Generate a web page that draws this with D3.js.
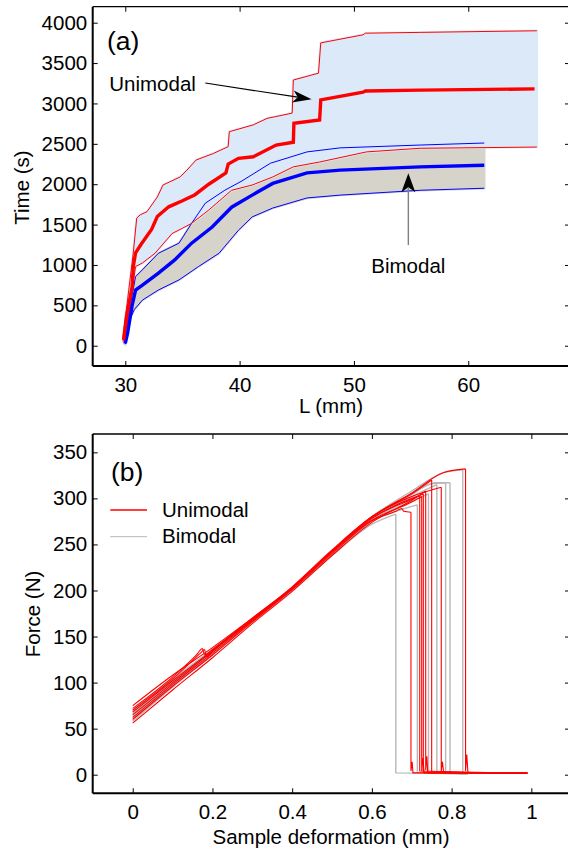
<!DOCTYPE html>
<html><head><meta charset="utf-8">
<script src="https://cdn.jsdelivr.net/npm/d3@7"></script>
<style>
body{margin:0;background:#fff}
svg{display:block}
text{font-family:"Liberation Sans",Arial,Helvetica,sans-serif;fill:#000}
</style>
</head><body>
<svg id="c" width="568" height="853"></svg>
<script>
// ---------- Panel (a) data: [L (mm), Time (s)] ----------
const uniUpper = [[29.8,100],[30.1,450],[30.4,800],[30.7,1150],[31.0,1580],[31.3,1620],[31.9,1660],[32.8,1840],[33.3,1990],[33.9,2030],[34.8,2090],[35.4,2175],[36.2,2300],[37.7,2380],[39.0,2465],[39.1,2650],[41.2,2735],[42.4,2815],[44.6,2880],[44.7,3290],[46.9,3375],[47.1,3750],[50.8,3850],[51.0,3870],[55.8,3880],[66.0,3900]];
const uniMean = [[29.85,70],[30.1,360],[30.6,730],[30.7,980],[30.9,1150],[31.4,1260],[32.3,1440],[32.8,1600],[33.8,1720],[35.0,1795],[36.1,1870],[37.3,2000],[38.8,2140],[39.0,2250],[39.9,2320],[41.2,2340],[43.2,2485],[44.7,2520],[44.75,2755],[47.0,2795],[47.1,3045],[50.8,3140],[51.0,3155],[55.8,3165],[65.8,3180]];
const uniLower = [[29.8,50],[30.2,300],[30.6,700],[30.9,980],[31.5,1025],[32.6,1145],[34.1,1390],[35.0,1455],[35.8,1515],[37.3,1680],[39.3,1925],[41.1,1990],[42.9,2090],[44.7,2215],[47.0,2275],[51.1,2400],[55.8,2445],[66.0,2460]];
const biUpper = [[29.9,30],[30.2,320],[30.9,855],[31.5,940],[32.9,1145],[34.7,1270],[35.8,1515],[37.0,1765],[38.7,1925],[40.2,2040],[42.7,2260],[45.9,2400],[48.8,2450],[55.8,2485],[61.4,2510]];
const biMean = [[30.0,30],[30.2,155],[30.6,500],[30.9,690],[31.5,750],[32.9,900],[34.3,1060],[35.8,1270],[37.6,1470],[39.3,1715],[41.1,1865],[42.9,2010],[45.9,2140],[48.8,2175],[55.8,2215],[61.4,2235]];
const biLower = [[30.0,20],[30.3,300],[30.8,450],[31.5,565],[32.9,690],[34.7,815],[36.4,980],[38.2,1145],[39.9,1430],[41.1,1595],[42.9,1705],[45.9,1830],[48.8,1865],[55.8,1925],[61.4,1950]];
const xTicksA = [30,40,50,60];
const yTicksA = [0,500,1000,1500,2000,2500,3000,3500,4000];

// ---------- Panel (b) data: [deformation (mm), Force (N)] ----------
const uniCurves = [
 [[0,75],[0.1,108],[0.2,138],[0.3,170],[0.4,203],[0.5,242],[0.6,276],[0.66,286],[0.675,289],[0.68,286],[0.698,285],[0.698,4],[0.701,14],[0.703,2],[0.99,2]],
 [[0,60],[0.1,96],[0.2,130],[0.3,166],[0.4,201],[0.5,240],[0.6,276],[0.7,296],[0.725,302],[0.725,4],[0.728,18],[0.731,2],[0.99,1.5]],
 [[0,70],[0.1,104],[0.17,132],[0.18,136],[0.185,128],[0.2,134],[0.3,168],[0.4,202],[0.5,243],[0.6,279],[0.7,299],[0.729,305],[0.729,3],[0.99,1.5]],
 [[0,56],[0.1,92],[0.2,127],[0.3,164],[0.4,199],[0.5,238],[0.6,274],[0.7,298],[0.735,308],[0.735,5],[0.738,20],[0.74,2],[0.99,2]],
 [[0,65],[0.1,100],[0.2,134],[0.3,168],[0.4,203],[0.5,243],[0.6,280],[0.7,305],[0.75,320],[0.75,3],[0.99,1.5]],
 [[0,72],[0.1,106],[0.16,130],[0.175,137],[0.18,130],[0.2,136],[0.3,170],[0.4,204],[0.5,244],[0.6,280],[0.7,302],[0.774,312],[0.774,4],[0.777,14],[0.78,2],[0.99,2]],
 [[0,62],[0.1,98],[0.2,132],[0.3,167],[0.4,202],[0.5,242],[0.6,280],[0.7,306],[0.78,328],[0.835,332],[0.835,4],[0.838,22],[0.841,2],[0.99,1.5]],
 [[0,68],[0.1,102],[0.2,135],[0.3,169],[0.4,203],[0.5,242],[0.6,278],[0.7,300],[0.72,303],[0.72,4],[0.99,1.5]]
];
const biCurves = [
 [[0,60],[0.1,97],[0.2,131],[0.3,166],[0.4,200],[0.5,238],[0.6,272],[0.66,283],[0.66,2],[0.84,1]],
 [[0,66],[0.1,101],[0.2,134],[0.3,168],[0.4,201],[0.5,240],[0.6,275],[0.69,290],[0.714,293],[0.714,2],[0.84,1]],
 [[0,70],[0.1,104],[0.2,136],[0.3,169],[0.4,202],[0.5,241],[0.6,277],[0.7,297],[0.742,305],[0.742,2],[0.84,1]],
 [[0,58],[0.1,95],[0.2,130],[0.3,166],[0.4,200],[0.5,239],[0.6,276],[0.7,302],[0.763,315],[0.763,2],[0.84,1]],
 [[0,63],[0.1,99],[0.2,133],[0.3,167],[0.4,201],[0.5,240],[0.6,277],[0.7,304],[0.75,316],[0.785,317],[0.785,2],[0.84,1]],
 [[0,68],[0.1,103],[0.2,135],[0.3,169],[0.4,202],[0.5,241],[0.6,278],[0.7,305],[0.76,317],[0.796,317],[0.796,2],[0.84,1]],
 [[0,64],[0.1,100],[0.2,134],[0.3,168],[0.4,202],[0.5,242],[0.6,280],[0.7,308],[0.78,328],[0.828,331],[0.828,2],[0.84,1]]
];
const xTicksB = [0,0.2,0.4,0.6,0.8,1];
const xTickLabelsB = ["0","0.2","0.4","0.6","0.8","1"];
const yTicksB = [0,50,100,150,200,250,300,350];
const legendLabels = ["Unimodal","Bimodal"];

// ---------- drawing ----------
const svg = d3.select("#c");
const FS = 20.5;

function frame(g, x, y, xt, yt, xfmt, L, R, T, B) {
  const ax = g.append("g").attr("transform", `translate(0,${B})`)
    .call(d3.axisBottom(x).tickValues(xt).tickSize(-5).tickPadding(11).tickFormat(xfmt));
  const ay = g.append("g").attr("transform", `translate(${L},0)`)
    .call(d3.axisLeft(y).tickValues(yt).tickSize(-5).tickPadding(5.5).tickFormat(d3.format("d")));
  const at = g.append("g").attr("transform", `translate(0,${T})`)
    .call(d3.axisTop(x).tickValues(xt).tickSize(-5).tickFormat(""));
  const ar = g.append("g").attr("transform", `translate(${R},0)`)
    .call(d3.axisRight(y).tickValues(yt).tickSize(-5).tickFormat(""));
  [ax,ay,at,ar].forEach(a => {
    a.select(".domain").remove();
    a.selectAll(".tick line").attr("stroke","#000").attr("stroke-width",1);
    a.selectAll("text").style("font-size", FS+"px").attr("fill","#000");
  });
  g.append("line").attr("x1",L).attr("x2",R).attr("y1",T).attr("y2",T).attr("stroke","#000").attr("stroke-width",1.3);
  g.append("line").attr("x1",R).attr("x2",R).attr("y1",T).attr("y2",B).attr("stroke","#000").attr("stroke-width",1.3);
  g.append("line").attr("x1",L).attr("x2",R).attr("y1",B).attr("y2",B).attr("stroke","#000").attr("stroke-width",2);
  g.append("line").attr("x1",L).attr("x2",L).attr("y1",T).attr("y2",B).attr("stroke","#000").attr("stroke-width",2);
}

function arrowHead(g, tx, ty, dx, dy, len, hw, notch) {
  const n = Math.hypot(dx,dy), ux = dx/n, uy = dy/n, px = -uy, py = ux;
  const bx = tx - ux*len, by = ty - uy*len;
  const nx = tx - ux*(len-notch), ny = ty - uy*(len-notch);
  g.append("path").attr("d",
    `M${tx},${ty}L${bx+px*hw},${by+py*hw}L${nx},${ny}L${bx-px*hw},${by-py*hw}Z`).attr("fill","#000");
  return [nx, ny];
}

// ===== Panel (a) =====
{
  const L=92.7, R=570, T=6.7, B=366;
  const x = d3.scaleLinear().domain([27.15,68.9]).range([L,R]);
  const y = d3.scaleLinear().domain([-251,4198]).range([B,T]);
  const g = svg.append("g");
  g.append("clipPath").attr("id","clipA").append("rect").attr("x",L).attr("y",T).attr("width",R-L).attr("height",B-T);
  const p = g.append("g").attr("clip-path","url(#clipA)");
  const line = d3.line().x(d=>x(d[0])).y(d=>y(d[1]));
  const band = (u,l) => line(u.concat(l.slice().reverse())) + "Z";
  p.append("path").attr("d", band(biUpper, biLower)).attr("fill","#d6d3cb").attr("stroke","#d6d3cb").attr("stroke-width",2.5);
  p.append("path").attr("d", band(uniUpper, uniLower)).attr("fill","#dce9f8").attr("stroke","#dce9f8").attr("stroke-width",2.5);
  [biUpper, biLower].forEach(s => p.append("path").attr("d", line(s)).attr("fill","none").attr("stroke","#0000ff").attr("stroke-width",1));
  [uniUpper, uniLower].forEach(s => p.append("path").attr("d", line(s)).attr("fill","none").attr("stroke","#ff0000").attr("stroke-width",1));
  p.append("path").attr("d", line(biMean)).attr("fill","none").attr("stroke","#0000ff").attr("stroke-width",3.4);
  p.append("path").attr("d", line(uniMean)).attr("fill","none").attr("stroke","#ff0000").attr("stroke-width",3.4);

  frame(g, x, y, xTicksA, yTicksA, d3.format("d"), L, R, T, B);

  g.append("text").attr("x",107).attr("y",50).style("font-size","26.5px").text("(a)");
  g.append("text").attr("x",x(28.6)).attr("y",y(3160)).style("font-size",FS+"px").text("Unimodal");
  const s1 = [x(37.0), y(3253)], t1 = [x(46.3), y(3051)];
  const e1 = arrowHead(g, t1[0], t1[1], t1[0]-s1[0], t1[1]-s1[1], 19, 6, 5);
  g.append("line").attr("x1",s1[0]).attr("y1",s1[1]).attr("x2",e1[0]).attr("y2",e1[1]).attr("stroke","#000").attr("stroke-width",1.2);
  g.append("text").attr("x",x(54.76)).attr("y",y(904)).attr("text-anchor","middle").style("font-size",FS+"px").text("Bimodal");
  const s2 = [x(54.76), y(1246)], t2 = [x(54.76), y(2135)];
  const e2 = arrowHead(g, t2[0], t2[1], 0, t2[1]-s2[1], 19, 7, 5);
  g.append("line").attr("x1",s2[0]).attr("y1",s2[1]).attr("x2",e2[0]).attr("y2",e2[1]).attr("stroke","#808080").attr("stroke-width",1.4);

  g.append("text").attr("transform","translate(28.5,187.5) rotate(-90)").attr("text-anchor","middle").style("font-size",FS+"px").text("Time (s)");
  g.append("text").attr("x",331).attr("y",413.3).attr("text-anchor","middle").style("font-size",FS+"px").text("L (mm)");
}

// ===== Panel (b) =====
{
  const L=92.7, R=570, T=434, B=793.3;
  const x = d3.scaleLinear().domain([-0.1004,1.097]).range([L,R]);
  const y = d3.scaleLinear().domain([-20.2,369.9]).range([B,T]);
  const g = svg.append("g");
  g.append("clipPath").attr("id","clipB").append("rect").attr("x",L).attr("y",T).attr("width",R-L).attr("height",B-T);
  const p = g.append("g").attr("clip-path","url(#clipB)");
  const smooth = d3.line().x(d=>x(d[0])).y(d=>y(d[1])).curve(d3.curveMonotoneX);
  const straight = d3.line().x(d=>x(d[0])).y(d=>y(d[1]));
  // rising part drawn smooth, the failure drop and plateau drawn straight
  const curvePath = c => {
    let k = c.findIndex((d,i) => i>0 && c[i-1][0] === d[0]);
    if (k < 0) return smooth(c);
    return smooth(c.slice(0,k)) + straight(c.slice(k-1));
  };
  biCurves.forEach(c => p.append("path").attr("d", curvePath(c)).attr("fill","none").attr("stroke","#b8b8b8").attr("stroke-width",1.4));
  uniCurves.forEach(c => p.append("path").attr("d", curvePath(c)).attr("fill","none").attr("stroke","#ff0000").attr("stroke-width",1.1));

  frame(g, x, y, xTicksB, yTicksB, (d,i)=>xTickLabelsB[i], L, R, T, B);

  g.append("text").attr("x",111).attr("y",481).style("font-size","26.5px").text("(b)");
  const legColors = ["#ff0000","#c4c4c4"];
  legendLabels.forEach((lab,i) => {
    const yy = 510 + i*26.7;
    g.append("line").attr("x1",110.3).attr("x2",147).attr("y1",yy).attr("y2",yy).attr("stroke",legColors[i]).attr("stroke-width",1.3);
    g.append("text").attr("x",162).attr("y",yy+6.5).style("font-size",FS+"px").text(lab);
  });

  g.append("text").attr("transform","translate(40,614) rotate(-90)").attr("text-anchor","middle").style("font-size",FS+"px").text("Force (N)");
  g.append("text").attr("x",331).attr("y",844).attr("text-anchor","middle").style("font-size",FS+"px").text("Sample deformation (mm)");
}
</script>
</body></html>
